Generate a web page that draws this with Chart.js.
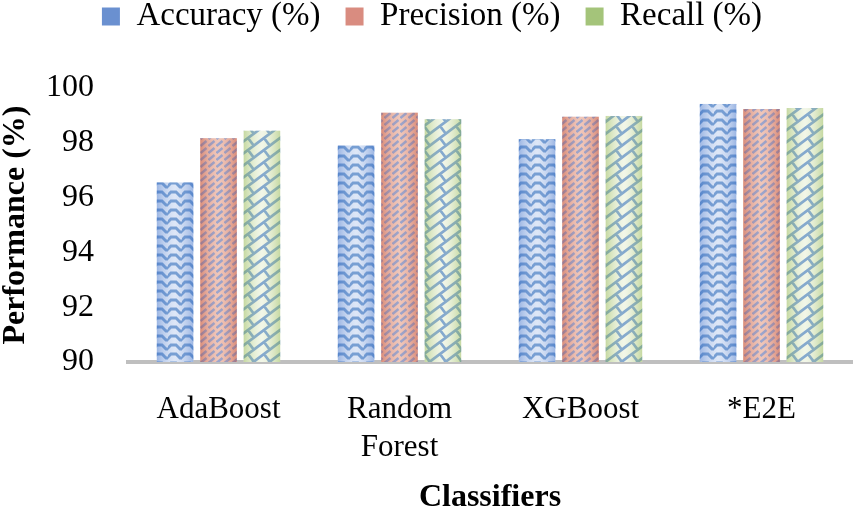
<!DOCTYPE html>
<html>
<head>
<meta charset="utf-8">
<script src="https://cdn.jsdelivr.net/npm/chart.js@4"></script>
<style>
  html, body { margin: 0; padding: 0; background: #fff; }
  #perfChart { display: block; }
</style>
</head>
<body>
<canvas id="perfChart" width="857" height="514"></canvas>
<script>
const classifiers = [["AdaBoost"], ["Random", "Forest"], ["XGBoost"], ["*E2E"]];
const accuracy = [96.55, 97.9, 98.13, 99.42];
const precision = [98.17, 99.1, 98.95, 99.23];
const recall = [98.44, 98.86, 98.98, 99.27];
const yTicks = [90, 92, 94, 96, 98, 100];

const legendColors = ["#6a90d0", "#d98c80", "#a4c47a"];
const edgeColors = ["rgba(100,140,210,0.5)", "rgba(200,100,80,0.5)", "rgba(165,195,110,0.55)"];

// pattern tiles roughly like the office-style fills
function makeTile(w, h, bg, draw) {
    const c = document.createElement("canvas");
    c.width = w; c.height = h;
    const g = c.getContext("2d");
    g.fillStyle = bg;
    g.fillRect(0, 0, w, h);
    draw(g);
    return document.getElementById("perfChart").getContext("2d").createPattern(c, "repeat");
}

const accFill = makeTile(14, 9, "#d3dff4", g => {
    g.strokeStyle = "#4a7fc4";
    g.lineWidth = 2.8;
    g.beginPath();
    g.moveTo(-1, 7); g.lineTo(3, 3); g.lineTo(8, 3); g.lineTo(12, 7); g.lineTo(15, 7);
    g.stroke();
});

const precFill = makeTile(8, 7, "#eab3a2", g => {
    g.strokeStyle = "#7887bd";
    g.lineWidth = 2.4;
    g.beginPath();
    g.moveTo(0.5, 6); g.lineTo(6.5, 1);
    g.stroke();
});

const recFill = makeTile(16, 12, "#edf3e0", g => {
    g.strokeStyle = "#5a8bbf";
    g.lineWidth = 2.7;
    g.beginPath();
    for (const dy of [-12, 0, 12]) {
        g.moveTo(-4, 15 + dy); g.lineTo(20, -3 + dy);
    }
    for (const [dx, dy] of [[0, 0], [-16, 0], [0, -12], [-16, -12], [16, 0], [0, 12]]) {
        g.moveTo(8 + dx, 6 + dy); g.lineTo(13.8 + dx, 13.7 + dy);
    }
    g.stroke();
});

const serif = "'Liberation Serif', 'DejaVu Serif', serif";

// fixed legend block height, and pull the legend row up to the top edge
const legendSpace = {
    id: "legendSpace",
    beforeInit(chart) {
        const legend = chart.legend;
        const fit = legend.fit;
        legend.fit = function () {
            fit.bind(legend)();
            this.height = 88;
        };
        const draw = legend.draw;
        legend.draw = function () {
            const ctx = chart.ctx;
            ctx.save();
            ctx.translate(6, -25);
            draw.apply(legend, arguments);
            ctx.restore();
        };
    }
};

// soft side shading on each bar
const barShade = {
    id: "barShade",
    afterDatasetsDraw(chart) {
        const ctx = chart.ctx;
        const area = chart.chartArea;
        chart.data.datasets.forEach((ds, i) => {
            chart.getDatasetMeta(i).data.forEach(bar => {
                const left = bar.x - bar.width / 2;
                const bottom = Math.min(bar.base, area.bottom);
                const grad = ctx.createLinearGradient(left, 0, left + bar.width, 0);
                grad.addColorStop(0, edgeColors[i]);
                grad.addColorStop(0.5, "rgba(255,255,255,0.25)");
                grad.addColorStop(1, edgeColors[i]);
                ctx.save();
                ctx.fillStyle = grad;
                ctx.fillRect(left, bar.y, bar.width, bottom - bar.y);
                ctx.restore();
            });
        });
    }
};

window.perfChart = new Chart(document.getElementById("perfChart"), {
    type: "bar",
    data: {
        labels: classifiers,
        datasets: [
            { label: "Accuracy (%)", data: accuracy, backgroundColor: accFill },
            { label: "Precision (%)", data: precision, backgroundColor: precFill },
            { label: "Recall (%)", data: recall, backgroundColor: recFill }
        ]
    },
    options: {
        responsive: false,
        animation: false,
        categoryPercentage: 0.72,
        barPercentage: 0.84,
        layout: { padding: { left: 0, right: 5, top: 0, bottom: 0 } },
        scales: {
            y: {
                min: 90,
                max: 100,
                afterBuildTicks: s => { s.ticks = yTicks.map(v => ({ value: v })); },
                afterFit: s => { s.width = 128; },
                grid: { display: false },
                border: { display: false },
                ticks: { color: "#000", padding: 26, font: { family: serif, size: 32 } },
                title: {
                    display: true,
                    text: "Performance (%)",
                    color: "#000",
                    padding: 0,
                    font: { family: serif, size: 32, weight: "bold", lineHeight: 1.0 }
                }
            },
            x: {
                afterFit: s => { s.height = 152; },
                grid: { display: false },
                border: { display: true, color: "#bfbfbf", width: 4 },
                ticks: { color: "#000", padding: 20, font: { family: serif, size: 31, lineHeight: 1.25 } },
                title: {
                    display: true,
                    text: "Classifiers",
                    color: "#000",
                    padding: { top: 0, bottom: 0 },
                    font: { family: serif, size: 32, weight: "bold", lineHeight: 1.0 }
                }
            }
        },
        plugins: {
            legend: {
                display: true,
                position: "top",
                labels: {
                    color: "#000",
                    boxWidth: 18,
                    boxHeight: 18,
                    padding: 25,
                    font: { family: serif, size: 33 },
                    generateLabels: chart => chart.data.datasets.map((ds, i) => ({
                        text: ds.label,
                        fillStyle: legendColors[i],
                        strokeStyle: legendColors[i],
                        lineWidth: 0,
                        fontColor: "#000",
                        datasetIndex: i
                    }))
                }
            },
            tooltip: { enabled: false }
        }
    },
    plugins: [legendSpace, barShade]
});
</script>
</body>
</html>
